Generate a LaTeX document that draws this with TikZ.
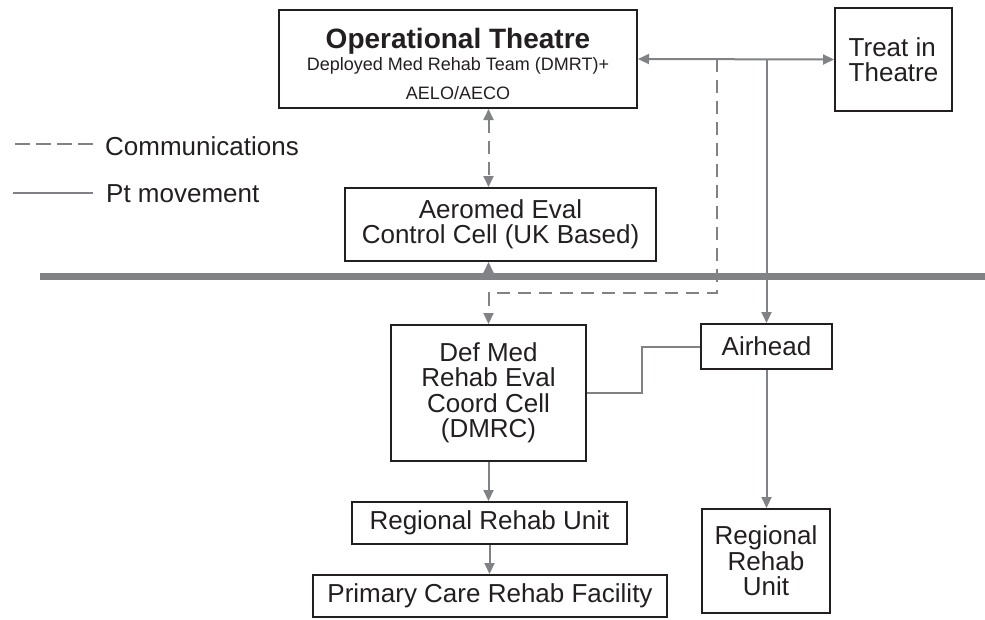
\documentclass[tikz,border=0pt]{standalone}
\usepackage{fontspec}
\setmainfont{Liberation Sans}
\usetikzlibrary{arrows.meta}
\definecolor{lgray}{RGB}{128,130,133}
\definecolor{ink}{RGB}{35,31,32}
\begin{document}
\begin{tikzpicture}[x=1pt,y=-1pt,
  box/.style={draw=ink,line width=2pt,inner sep=0pt,align=center,text=ink,
    font=\fontsize{26}{25.5}\selectfont},
  conn/.style={draw=lgray,line width=2pt},
  comm/.style={draw=lgray,line width=2pt,dash pattern=on 13pt off 8pt},
  tip/.style={-{Triangle[length=11pt,width=10pt]}},
  tips/.style={{Triangle[length=11pt,width=10pt]}-{Triangle[length=11pt,width=10pt]}},
  lbl/.style={anchor=base west,inner sep=0pt,text=ink,font=\fontsize{26}{26}\selectfont}
]
\useasboundingbox (0,0) rectangle (985,619);

% boxes
\node[box,minimum width=358,minimum height=98,font=\fontsize{18}{29}\selectfont] (op) at (458,59)
  {\rule{0pt}{31pt}{\fontsize{28}{29}\selectfont\bfseries Operational Theatre}\\[-7pt]
   Deployed Med Rehab Team (DMRT)+\\ AELO/AECO};
\node[box,minimum width=117,minimum height=103,align=left] (treat) at (893.5,59.5) {Treat in\\Theatre};
\node[box,minimum width=311,minimum height=73] (aero) at (500.5,224.5) {Aeromed Eval\\Control Cell (UK Based)};
\node[box,minimum width=195,minimum height=136] (dmrc) at (488.5,393) {Def Med\\Rehab Eval\\Coord Cell\\(DMRC)};
\node[box,minimum width=131,minimum height=45] (air) at (766.5,346.5) {Airhead};
\node[box,minimum width=275,minimum height=42] (rru1) at (489.5,523) {Regional Rehab Unit};
\node[box,minimum width=354,minimum height=42] (pcrf) at (490,596) {Primary Care Rehab Facility};
\node[box,minimum width=128,minimum height=104] (rru2) at (766,561) {Regional\\Rehab\\Unit};

% thick divider
\coordinate (barL) at (40,276);
\coordinate (barR) at (985,276);
\draw[lgray,line width=7pt] (barL) -- (barR);

% junctions
\coordinate (jc) at (717,59);
\coordinate (jp) at (766.5,59);
\coordinate (jd) at (717,293);
\coordinate (ja) at (488.5,273);

% connectors
\draw[conn,tips] (op.east) -- (treat.west);
\draw[comm,tips] (op.south -| dmrc.north) -- (aero.north -| dmrc.north);
\draw[conn,tip] (ja) -- (aero.south -| ja);
\draw[comm,tip] (jc) -- (jd) -| (dmrc.north);
\draw[conn,tip] (jp) -- (air.north);
\draw[conn] (air.west) -- ++(-58,0) |- (dmrc.east);
\draw[conn,tip] (air.south) -- (rru2.north -| air.south);
\draw[conn,tip] (dmrc.south) -- (rru1.north -| dmrc.south);
\draw[conn,tip] (rru1.south) -- (pcrf.north -| rru1.south);

% legend
\coordinate (c1) at (15,144);
\coordinate (c2) at (97,144);
\coordinate (p1) at (13,193);
\coordinate (p2) at (93,193);
\draw[comm,dash pattern=on 15pt off 6pt] (c1) -- (c2);
\draw[conn] (p1) -- (p2);
\node[lbl] (lc) at (105,155) {Communications};
\node[lbl] (lp) at (106,202) {Pt movement};
\end{tikzpicture}
\end{document}
